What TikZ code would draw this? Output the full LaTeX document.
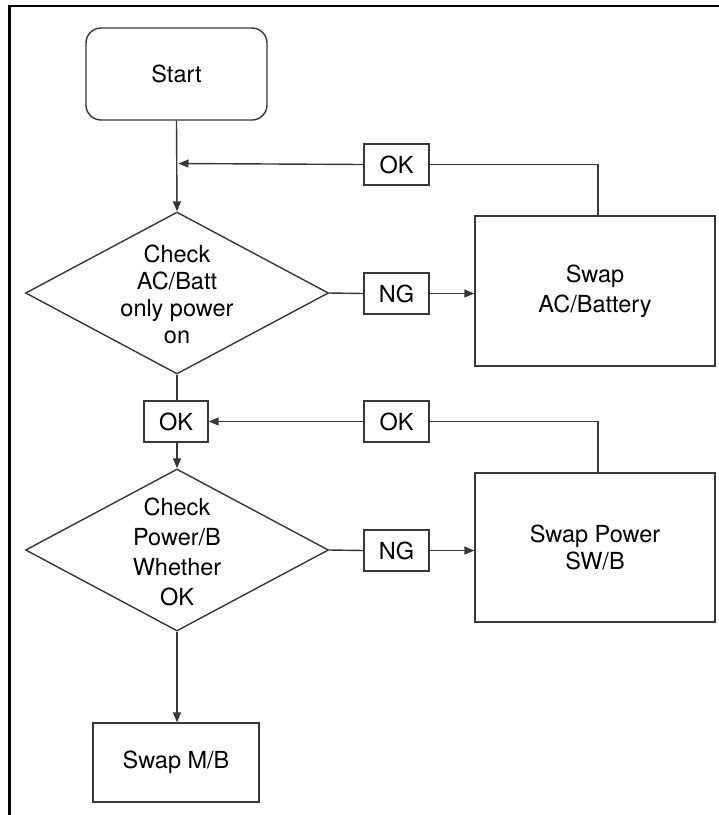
\documentclass[tikz,border=0pt]{standalone}
\usepackage{fontspec}
\setmainfont{TeX Gyre Heros}
\usetikzlibrary{arrows.meta,shapes.geometric}
\definecolor{ln}{RGB}{55,55,55}
\begin{document}
\begin{tikzpicture}[x=1pt,y=-1pt,
  every node/.style={font=\fontsize{23.5}{28}\selectfont},
  conn/.style={draw=ln,line width=1.4pt},
  arr/.style={conn,-{Triangle[length=10pt,width=8pt]}},
  boxnode/.style={draw=ln,line width=1.4pt,rectangle,inner sep=0pt,align=center},
  tag/.style={boxnode,minimum width=65pt,minimum height=41pt},
  decision/.style={draw=ln,line width=1.4pt,diamond,inner sep=0pt,minimum width=303pt,minimum height=162pt},
  txt/.style={align=center,inner sep=0pt}
]
\useasboundingbox (0,0) rectangle (719,815);
\fill[white] (0,0) rectangle (719,815);
% frame
\draw[line width=3.5pt,black] (9.5,815) -- (9.5,5.5);
\draw[line width=2.5pt,black] (8,6) -- (719,6);

% nodes
\node[boxnode,rounded corners=15pt,minimum width=181pt,minimum height=92pt] (start) at (176.5,74) {Start};
\node[decision] (d1) at (177,293) {};
\node[txt,font=\fontsize{23.5}{27}\selectfont] (d1t) at (177,294) {Check\\AC/Batt\\only power\\on};
\node[tag] (ok1) at (396.5,164.5) {OK};
\node[tag] (ng1) at (396.5,293.5) {NG};
\node[boxnode,minimum width=240pt,minimum height=150pt,font=\fontsize{23.5}{30}\selectfont] (swap1) at (595,291) {Swap\\AC/Battery};
\coordinate (m1) at (178.5,163.5);

\node[tag,minimum width=64pt] (ok2) at (176,421.5) {OK};
\node[tag] (ok3) at (396.5,421.5) {OK};
\node[decision] (d2) at (177,550) {};
\node[txt,font=\fontsize{23.5}{30}\selectfont] (d2t) at (177,552) {Check\\Power/B\\Whether\\OK};
\node[tag] (ng2) at (396.5,550.5) {NG};
\node[boxnode,minimum width=240pt,minimum height=149pt,font=\fontsize{23.5}{27}\selectfont] (swap2) at (595,547.5) {Swap Power\\SW/B};
\node[boxnode,minimum width=166pt,minimum height=79pt] (mb) at (176,762.5) {Swap M/B};

% connectors
\draw[arr] (start.south) -- (d1.north);
\draw[conn] ([xshift=3pt]swap1.north) |- (ok1.east);
\draw[arr] (ok1.west) -- (m1);
\draw[conn] (d1.east) -- (ng1.west);
\draw[arr] (ng1.east) -- (ng1.east -| swap1.west);
\draw[conn] (d1.south) -- (d1.south |- ok2.north);
\draw[arr] (ok2.south -| d2.north) -- (d2.north);
\draw[conn] ([xshift=3pt]swap2.north) |- (ok3.east);
\draw[arr] (ok3.west) -- (ok2.east);
\draw[conn] (d2.east) -- (ng2.west);
\draw[arr] (ng2.east) -- (ng2.east -| swap2.west);
\draw[arr] (d2.south) -- (d2.south |- mb.north);
\end{tikzpicture}
\end{document}
